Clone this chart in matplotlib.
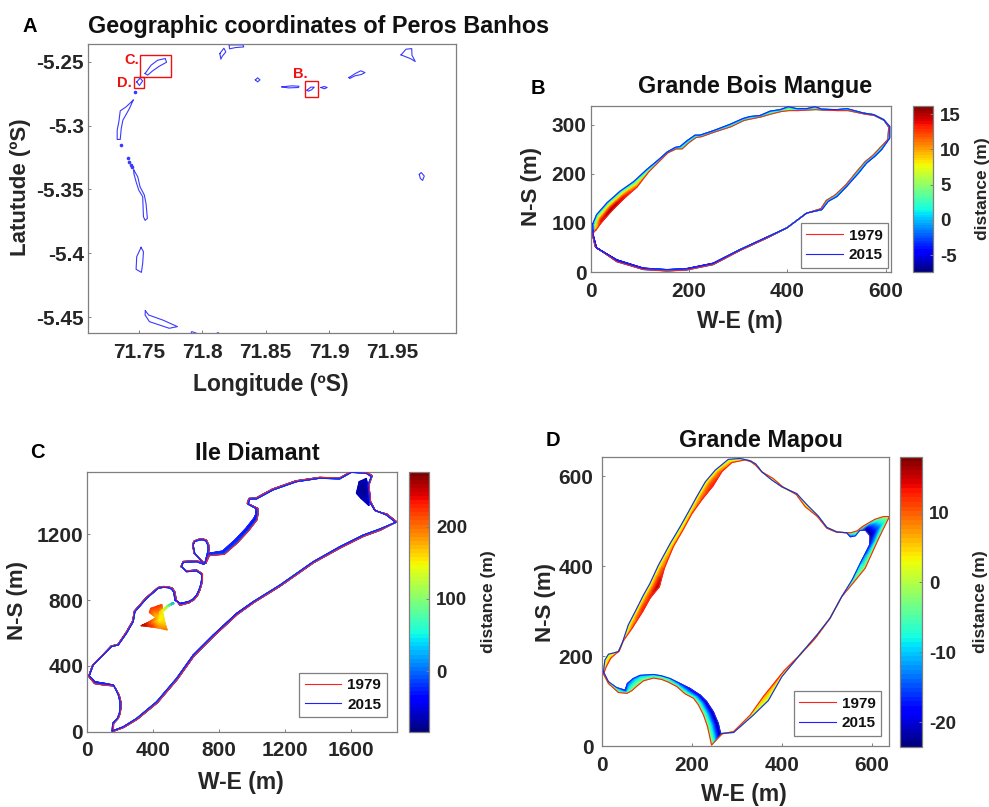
import numpy as np
import matplotlib
matplotlib.use('Agg')
import matplotlib.pyplot as plt
from matplotlib.patches import Rectangle

plt.rcParams['font.family'] = ['Liberation Sans', 'DejaVu Sans']
plt.rcParams['font.weight'] = 'bold'
plt.rcParams['axes.unicode_minus'] = False

W, H = 989, 807
GREY = '#7f7f7f'
DARK = '#262626'
LINE_RED = '#ff2020'
LINE_BLUE = '#2020ff'

# panel A, island outlines as (lon, lat) lists
islands = [
    ([71.755, 71.7597, 71.7649, 71.7709, 71.7719, 71.7662, 71.761, 71.757, 71.755],
     [-5.2591, -5.2526, -5.2487, -5.2474, -5.2503, -5.2534, -5.257, -5.2604, -5.2591]),
    ([71.7484, 71.751, 71.7531, 71.7505, 71.7484], [-5.2657, -5.2628, -5.2649, -5.2685, -5.2657]),
    ([71.8139, 71.8171, 71.8186, 71.8158, 71.8147, 71.8139], [-5.2435, -5.2393, -5.2422, -5.2456, -5.2479, -5.2435]),
    ([71.8213, 71.8322, 71.8327, 71.8262, 71.8215, 71.8213], [-5.2367, -5.2367, -5.2383, -5.2388, -5.2398, -5.2367]),
    ([71.8419, 71.8437, 71.8455, 71.8437, 71.8419], [-5.2641, -5.2625, -5.2641, -5.2657, -5.2641]),
    ([71.8628, 71.8706, 71.8763, 71.8758, 71.868, 71.8628], [-5.2696, -5.2688, -5.2691, -5.2701, -5.2704, -5.2696]),
    ([71.8826, 71.8855, 71.8883, 71.8862, 71.8836, 71.8826], [-5.2722, -5.2698, -5.2698, -5.2719, -5.273, -5.2722]),
    ([71.8936, 71.8962, 71.8985, 71.8962, 71.8936], [-5.2701, -5.2693, -5.2701, -5.2711, -5.2701]),
    ([71.9157, 71.9202, 71.9249, 71.9283, 71.9254, 71.9202, 71.9163, 71.9157],
     [-5.2623, -5.2594, -5.257, -5.2584, -5.2599, -5.261, -5.263, -5.2623]),
    ([71.9567, 71.9606, 71.9651, 71.9653, 71.9679, 71.964, 71.9606, 71.9567],
     [-5.2445, -5.2401, -5.2396, -5.2448, -5.2497, -5.2474, -5.2461, -5.2445]),
    ([71.9711, 71.9726, 71.975, 71.9737, 71.9719, 71.9711], [-5.3382, -5.3367, -5.3395, -5.3429, -5.3414, -5.3382]),
    ([71.7456, 71.7427, 71.7375, 71.7362, 71.7354, 71.733, 71.733, 71.7343, 71.7354, 71.7401, 71.7456],
     [-5.28, -5.2865, -5.2957, -5.3022, -5.3108, -5.3108, -5.3035, -5.297, -5.2884, -5.2852, -5.28]),
    ([71.7461, 71.7492, 71.751, 71.7544, 71.7557, 71.7568, 71.755, 71.7537, 71.7531, 71.75, 71.7479, 71.7461, 71.7461],
     [-5.3348, -5.3401, -5.3479, -5.3544, -5.3609, -5.3727, -5.3742, -5.3714, -5.3557, -5.3505, -5.344, -5.3374, -5.3348]),
    ([71.7518, 71.7537, 71.7531, 71.7521, 71.7479, 71.7484, 71.7518],
     [-5.3954, -5.3988, -5.4079, -5.415, -5.4126, -5.4027, -5.3954]),
    ([71.7552, 71.7578, 71.7688, 71.7805, 71.774, 71.7584, 71.755, 71.7552],
     [-5.445, -5.4484, -5.4523, -5.4575, -5.4588, -5.4536, -5.4484, -5.445]),
    ([71.7905, 71.7918, 71.7955], [-5.464, -5.4614, -5.4627]),
    ([71.8087, 71.8126], [-5.464, -5.4622]),
]
dot_lon = [71.7469, 71.7362, 71.7414, 71.7427, 71.744, 71.7448]
dot_lat = [-5.2735, -5.315, -5.3252, -5.3283, -5.3309, -5.3325]
# lon0, lon1, lat0, lat1
boxes = [(71.7508, 71.7758, -5.2617, -5.2448),
         (71.7461, 71.7539, -5.2701, -5.2617),
         (71.8808, 71.8912, -5.2777, -5.2649)]

# panel B
b_x15 = [4, 12, 33, 60, 87, 114, 138, 156, 172, 182, 195, 212, 222, 249, 283, 310, 324, 344, 365, 385, 402, 419, 439,
         456, 470, 500, 521, 555, 575, 595, 608, 608, 592, 578, 561, 545, 521, 501, 483, 470, 439, 399, 358, 304, 249,
         195, 155, 107, 53, 12, 5, 4]
b_y15 = [98, 117, 141, 165, 184, 209, 229, 245, 254, 256, 267, 279, 279, 288, 301, 313, 317, 319, 328, 331, 337, 333,
         333, 337, 332, 331, 333, 324, 321, 311, 297, 273, 250, 236, 222, 202, 175, 154, 144, 127, 120, 90, 71, 46, 18,
         7, 5, 8, 25, 49, 76, 98]
b_x79 = [11, 21, 43, 70, 94, 118, 140, 157, 174, 186, 199, 214, 226, 251, 285, 312, 326, 346, 367, 387, 404, 421, 441,
         458, 472, 502, 523, 557, 577, 597, 606, 604, 587, 574, 558, 541, 519, 497, 479, 468, 439, 399, 358, 304, 249,
         195, 155, 107, 53, 9, 3, 11]
b_y79 = [86, 100, 125, 152, 173, 204, 226, 243, 251, 251, 263, 274, 276, 285, 296, 309, 312, 316, 322, 327, 329, 329,
         330, 331, 330, 329, 329, 322, 319, 309, 295, 270, 252, 238, 225, 205, 178, 157, 146, 129, 120, 90, 69, 44, 15,
         4, 2, 5, 21, 52, 78, 86]
b_d = [9, 14, 16, 14, 11, 6, 3, 3, 3, 4, 3, 4, 3, 2, 4, 3, 4, 2, 5, 4, 7, 3, 3, 5, 2, 2, 4, 2, 2, 1, 1, 3, 4, 3, 3, 3, 2,
       3, 4, 1, 0, 0, -2, -2, -4, -3, -2, -4, -5, -5, -4, 9]

# panel C
c_x15 = [150, 154, 182, 194, 198, 198, 188, 174, 158, 107, 46, 12, 36, 97, 147, 188, 238, 279, 289, 360, 430, 461, 491,
         511, 525, 531, 562, 612, 642, 663, 677, 687, 693, 693, 663, 602, 572, 582, 663, 707, 652, 642, 652, 673, 697,
         719, 731, 733, 713, 733, 820, 895, 962, 1010, 1022, 1022, 976, 986, 1026, 1127, 1269, 1410, 1531, 1602, 1693,
         1723, 1703, 1713, 1743, 1814, 1871, 1774, 1673, 1531, 1370, 1168, 1006, 905, 764, 642, 541, 420, 299, 218, 150]
c_y15 = [4, 51, 81, 111, 142, 182, 223, 253, 284, 294, 304, 340, 405, 466, 517, 527, 598, 669, 729, 810, 871, 877, 875,
         867, 847, 800, 780, 790, 806, 831, 861, 891, 922, 956, 977, 972, 1003, 1029, 1033, 1017, 1084, 1135, 1155, 1163,
         1167, 1159, 1135, 1104, 1023, 1084, 1098, 1165, 1236, 1297, 1321, 1357, 1382, 1414, 1414, 1469, 1519, 1540, 1536,
         1576, 1570, 1550, 1499, 1398, 1347, 1317, 1272, 1232, 1195, 1124, 1033, 891, 790, 719, 588, 466, 324, 182, 81,
         30, 4]
c_x79 = [158, 160, 188, 200, 204, 204, 194, 178, 162, 107, 44, 8, 32, 93, 145, 186, 234, 275, 285, 356, 430, 463, 495,
         517, 531, 541, 562, 616, 648, 669, 683, 693, 699, 699, 663, 602, 568, 582, 663, 713, 648, 638, 648, 673, 697,
         723, 737, 739, 719, 741, 832, 912, 980, 1030, 1036, 1036, 970, 980, 1022, 1123, 1265, 1410, 1531, 1602, 1697,
         1729, 1709, 1719, 1749, 1818, 1877, 1778, 1677, 1535, 1374, 1172, 1010, 911, 770, 648, 547, 426, 303, 222, 158]
c_y79 = [2, 51, 81, 111, 142, 182, 223, 251, 278, 282, 292, 336, 405, 466, 521, 531, 602, 673, 733, 814, 877, 883, 880,
         872, 851, 800, 768, 782, 802, 827, 859, 891, 922, 960, 983, 978, 1003, 1035, 1039, 1023, 1084, 1137, 1159, 1169,
         1173, 1165, 1135, 1104, 1023, 1070, 1078, 1148, 1222, 1287, 1321, 1357, 1388, 1418, 1420, 1475, 1525, 1546, 1542,
         1582, 1576, 1556, 1499, 1398, 1341, 1323, 1276, 1224, 1187, 1116, 1027, 885, 784, 713, 582, 460, 318, 176, 75,
         26, 2]
c_d = [0, 0, 0, 0, 0, 0, 0, -5, -10, -25, -25, -15, 0, 0, 0, 0, 0, 0, 0, 0, 0, 0, 0, 0, -10, -25, -30, -20, -15, -10, -5,
       0, 0, 0, 0, 0, 0, 0, 0, 0, 0, 0, 0, 0, 0, 0, 0, 0, -5, -20, -30, -30, -35, -35, -25, -15, 0, 0, 0, 0, 0, 0, 0, 0,
       0, 0, 0, -30, -20, -5, 0, 0, -15, -15, -5, -5, -15, -25, -10, -20, -5, 0, 0, -15, -10]
# inland pond of Ile Diamant: rim, then centre, and the thin neck to the coast
pond_x = [325, 370, 416, 424, 376, 384, 430, 452, 457, 440, 461, 469, 485, 440, 390, 325]
pond_y = [644, 665, 693, 713, 725, 750, 766, 774, 750, 729, 719, 669, 618, 628, 636, 644]
pond_v = [265, 225, 175, 175, 215, 220, 225, 215, 190, 165, 150, 160, 200, 190, 225, 265]
pond_centre = (436, 679, 145)
neck_x_up = [450, 485, 521]
neck_y_up = [733, 766, 786]
neck_x_lo = [457, 491, 526]
neck_y_lo = [727, 760, 778]
neck_v = [150, 100, 20]
# north-east inlet of Ile Diamant
inlet_x = [1693, 1649, 1632, 1660, 1709, 1709, 1693]
inlet_y = [1540, 1520, 1449, 1418, 1373, 1459, 1540]
inlet_v = [-60, -70, -65, -65, -55, -60, -60]
inlet_centre = (1680, 1459, -78)

# panel D
d_x15 = [4, 7, 15, 27, 37, 46, 59, 78, 93, 107, 126, 152, 174, 193, 211, 230, 252, 281, 307, 330, 342, 356, 378, 400,
         433, 456, 481, 500, 522, 544, 552, 563, 573, 585, 589, 596, 595, 574, 556, 533, 507, 478, 437, 400, 370, 337,
         293, 267, 264, 259, 248, 233, 219, 196, 174, 152, 133, 115, 85, 70, 57, 52, 33, 15, 4]
d_y15 = [165, 191, 204, 207, 210, 230, 269, 306, 336, 361, 402, 450, 487, 521, 554, 587, 613, 637, 639, 634, 627, 609,
         591, 576, 561, 536, 511, 486, 476, 474, 465, 467, 479, 480, 476, 467, 447, 406, 369, 332, 284, 247, 199, 154,
         101, 69, 30, 28, 28, 50, 76, 99, 113, 128, 139, 150, 156, 159, 157, 150, 139, 124, 130, 143, 165]
d_x79 = [4, 10, 20, 30, 39, 48, 67, 91, 107, 128, 139, 159, 181, 200, 222, 247, 267, 289, 319, 331, 342, 356, 380, 402,
         432, 452, 479, 500, 522, 544, 553, 567, 581, 607, 626, 639, 615, 585, 559, 533, 507, 474, 433, 405, 359, 330,
         293, 267, 244, 235, 226, 215, 204, 185, 167, 148, 133, 115, 93, 78, 67, 56, 37, 15, 4]
d_y79 = [160, 176, 195, 204, 211, 234, 261, 299, 328, 354, 395, 443, 481, 516, 547, 578, 610, 630, 636, 632, 624, 609,
         595, 576, 559, 532, 510, 484, 475, 474, 474, 478, 489, 504, 510, 510, 461, 395, 363, 332, 284, 239, 195, 167, 110,
         69, 32, 27, 2, 43, 69, 91, 106, 116, 132, 142, 148, 151, 145, 133, 123, 117, 119, 139, 160]
d_d = [0, 5, 6, 4, 0, 3, 8, 13, 12, 16, 10, 7, 6, 7, 10, 13, 10, 6, 1, 0, 1, 0, 2, 0, 0, 5, 0, 0, 0, 0, -14, -8, -5, -23,
       -23, -23, -17, -10, -6, 0, 0, 5, 4, 9, 6, 2, 1, 0, -23, -23, -23, -21, -20, -19, -14, -8, -8, -9, -11, -12, -14,
       -16, -8, 0, 0]

cmap = plt.get_cmap('jet', 64)

fig = plt.figure(figsize=(W / 100, H / 100), dpi=100)


def px_axes(x0, x1, y0, y1):
    return fig.add_axes([x0 / W, 1 - y1 / H, (x1 - x0) / W, (y1 - y0) / H])


def txt(x, y, s, **kw):
    kw.setdefault('ha', 'center')
    kw.setdefault('va', 'center')
    kw.setdefault('color', DARK)
    fig.text(x / W, 1 - y / H, s, **kw)


def style(ax, size=15, ypad=3):
    for sp in ax.spines.values():
        sp.set_color(GREY)
        sp.set_linewidth(0.9)
    ax.tick_params(direction='in', length=2.5, width=0.7, color=GREY, labelcolor=DARK, labelsize=size, pad=ypad,
                   top=False, right=False)
    ax.tick_params(axis='x', pad=7)


def shade(ax, xa, ya, ca, xb, yb, cb, vmin, vmax, zorder=1):
    # colour ramp between two edges, extra rows only so the shading follows the colormap
    xa, ya, ca, xb, yb, cb = [np.asarray(v, dtype=float) for v in (xa, ya, ca, xb, yb, cb)]
    t = np.linspace(0, 1, 12)[:, None]
    X = xa + t * (xb - xa)
    Y = ya + t * (yb - ya)
    C = ca + t * (cb - ca)
    ax.pcolormesh(X, Y, C, shading='gouraud', cmap=cmap, vmin=vmin, vmax=vmax, zorder=zorder)


def band(ax, x79, y79, x15, y15, d, vmin, vmax):
    # the gain side stays near its full value across most of the strip
    x79, y79, x15, y15, d = [np.asarray(v, dtype=float) for v in (x79, y79, x15, y15, d)]
    t = np.linspace(0, 1, 12)[:, None]
    X = x79 + t * (x15 - x79)
    Y = y79 + t * (y15 - y79)
    C = np.maximum(d, 0) * (1 - t ** 2) + np.minimum(d, 0) * t
    ax.pcolormesh(X, Y, C, shading='gouraud', cmap=cmap, vmin=vmin, vmax=vmax, zorder=1)


def blob(ax, x, y, v, centre, vmin, vmax):
    n = len(x)
    shade(ax, [centre[0]] * n, [centre[1]] * n, [centre[2]] * n, x, y, v, vmin, vmax, zorder=2)


def outlines(ax, x79, y79, x15, y15, legend_box):
    ax.plot(x79, y79, color=LINE_RED, lw=0.8, label='1979', zorder=3)
    ax.plot(x15, y15, color=LINE_BLUE, lw=0.8, label='2015', zorder=4)
    x0, x1, y0, y1 = legend_box
    leg = ax.legend(loc='center', bbox_to_anchor=((x0 + x1) / 2 / W, 1 - (y0 + y1) / 2 / H),
                    bbox_transform=fig.transFigure, fontsize=11, fancybox=False, framealpha=1, edgecolor=GREY,
                    handlelength=2.4, handletextpad=0.4, labelspacing=0.35, borderpad=0.35, borderaxespad=0)
    leg.get_frame().set_linewidth(0.9)
    leg.set_zorder(6)
    for t in leg.get_texts():
        t.set_color('#111111')


def colorbar(x0, x1, y0, y1, vmin, vmax, ticks, label_x):
    cax = px_axes(x0, x1, y0, y1)
    sm = plt.cm.ScalarMappable(norm=plt.Normalize(vmin, vmax), cmap=cmap)
    cb = fig.colorbar(sm, cax=cax, ticks=ticks)
    cb.outline.set_edgecolor(GREY)
    cb.outline.set_linewidth(0.9)
    cax.tick_params(direction='in', length=2.5, width=0.7, color=GREY, labelcolor=DARK, labelsize=13.5, pad=5)
    txt(label_x, (y0 + y1) / 2, 'distance (m)', rotation=90, fontsize=12.5)


# A
ax = px_axes(88, 456, 44, 333)
for lon, lat in islands:
    ax.plot(lon, lat, color='#3a3aff', lw=0.8)
ax.plot(dot_lon, dot_lat, ls='none', marker='o', ms=1.6, color='#3a3aff')
for x0, x1, y0, y1 in boxes:
    ax.add_patch(Rectangle((x0, y0), x1 - x0, y1 - y0, fill=False, edgecolor='#f01010', lw=1.0))
ax.set_xlim(71.71, 72.0)
ax.set_ylim(-5.4625, -5.236)
ax.set_xticks([71.75, 71.8, 71.85, 71.9, 71.95], ['71.75', '71.8', '71.85', '71.9', '71.95'])
ax.set_yticks([-5.25, -5.3, -5.35, -5.4, -5.45], ['-5.25', '-5.3', '-5.35', '-5.4', '-5.45'])
style(ax)
txt(132, 60, 'C.', color='#f01010', fontsize=10.5)
txt(124, 83, 'D.', color='#f01010', fontsize=10.5)
txt(300, 74, 'B.', color='#f01010', fontsize=10.5)
txt(30, 27, 'A', color='black', fontsize=14.5)
txt(88, 26, 'Geographic coordinates of Peros Banhos', ha='left', color='#111111', fontsize=16.8)
txt(271, 385, 'Longitude (ºS)', fontsize=16.5)
txt(21, 187, 'Latutude (ºS)', rotation=90, fontsize=16)

# B
ax = px_axes(590.7, 890.7, 105.7, 272)
band(ax, b_x79, b_y79, b_x15, b_y15, b_d, -7.4, 16.2)
outlines(ax, b_x79, b_y79, b_x15, b_y15, (801.7, 887, 223, 268))
ax.set_xlim(0, 610)
ax.set_ylim(0, 339)
ax.set_xticks([0, 200, 400, 600])
ax.set_yticks([0, 100, 200, 300])
style(ax)
colorbar(912.7, 933.3, 105.7, 272, -7.4, 16.2, [-5, 0, 5, 10, 15], 982)
txt(538, 88, 'B', color='black', fontsize=14.5)
txt(755, 87, 'Grande Bois Mangue', color='#111111', fontsize=16.8)
txt(740, 321, 'W-E (m)', fontsize=16.5)
txt(531, 187, 'N-S (m)', rotation=90, fontsize=16)

# C
ax = px_axes(87.3, 397, 471.7, 731.7)
band(ax, c_x79, c_y79, c_x15, c_y15, c_d, -84, 276)
blob(ax, pond_x, pond_y, pond_v, pond_centre, -84, 276)
shade(ax, neck_x_up, neck_y_up, neck_v, neck_x_lo, neck_y_lo, neck_v, -84, 276, zorder=2)
blob(ax, inlet_x, inlet_y, inlet_v, inlet_centre, -84, 276)
outlines(ax, c_x79, c_y79, c_x15, c_y15, (300, 386, 672, 718))
ax.set_xlim(0, 1879)
ax.set_ylim(0, 1580)
ax.set_xticks([0, 400, 800, 1200, 1600])
ax.set_yticks([0, 400, 800, 1200])
style(ax)
colorbar(408.7, 429, 471.7, 731.7, -84, 276, [0, 100, 200], 488)
txt(37, 453, 'C', color='black', fontsize=14.5)
txt(257, 453, 'Ile Diamant', color='#111111', fontsize=16.8)
txt(241, 782, 'W-E (m)', fontsize=16.5)
txt(17, 600, 'N-S (m)', rotation=90, fontsize=16)

# D
ax = px_axes(601.7, 889, 456.7, 746)
band(ax, d_x79, d_y79, d_x15, d_y15, d_d, -23.5, 18)
outlines(ax, d_x79, d_y79, d_x15, d_y15, (795, 880, 691, 736))
ax.set_xlim(0, 638)
ax.set_ylim(0, 643)
ax.set_xticks([0, 200, 400, 600])
ax.set_yticks([0, 200, 400, 600])
style(ax, ypad=6)
colorbar(900, 922.3, 456.7, 746.7, -23.5, 18, [-20, -10, 0, 10], 981)
txt(553, 440, 'D', color='black', fontsize=14.5)
txt(761, 440, 'Grande Mapou', color='#111111', fontsize=16.8)
txt(744, 795, 'W-E (m)', fontsize=16.5)
txt(545, 603, 'N-S (m)', rotation=90, fontsize=16)

fig.savefig('out.png', dpi=100)
